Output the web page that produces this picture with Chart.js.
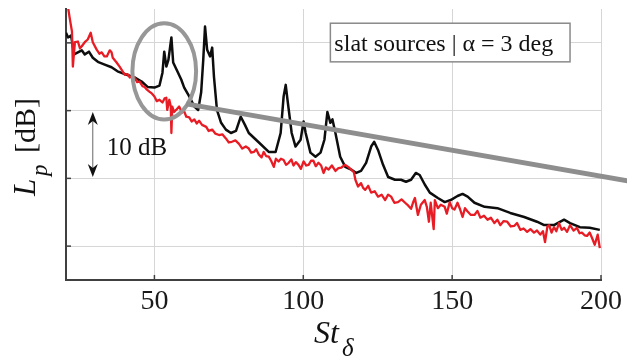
<!DOCTYPE html>
<html>
<head>
<meta charset="utf-8">
<script src="https://cdn.jsdelivr.net/npm/chart.js@4.4.1/dist/chart.umd.min.js"></script>
<style>
  body { margin: 0; background: #fff; }
  canvas { display: block; }
</style>
</head>
<body>
<canvas id="lineChart" width="627" height="361"></canvas>
<script>
// values (St_delta, Lp in dB relative to the lowest gridline - 5)
const stBlack = [20.3, 21.0, 22.0, 23.0, 24.3, 25.6, 26.6, 28.0, 29.3, 31.0, 33.3, 35.6, 37.6, 40.7, 43.3, 45.7, 47.7, 50.0, 51.7, 52.7,
    53.3, 54.0, 54.7, 55.7, 56.3, 57.7, 59.0, 60.0, 61.7, 63.4, 64.7, 65.7, 66.4, 67.0, 67.7, 68.7, 69.4, 70.0, 71.0, 72.4,
    74.0, 75.7, 77.4, 79.0, 80.4, 81.7, 85.1, 88.4, 90.7, 92.4, 93.4, 94.1, 94.7, 96.1, 97.4, 99.1, 100.1, 100.8, 102.4, 104.1,
    105.8, 107.1, 108.1, 109.1, 109.8, 110.8, 112.4, 114.1, 116.1, 117.8, 119.4, 121.1, 122.8, 123.8, 125.1, 126.8, 128.5, 130.8, 132.8, 134.5,
    136.2, 137.8, 139.1, 140.8, 142.5, 145.2, 147.5, 149.5, 151.8, 153.5, 155.2, 157.5, 160.9, 165.2, 169.5, 174.2, 178.5, 180.9, 184.2, 187.6,
    189.6, 192.9, 196.2, 199.6];
const lpBlack = [36.5, 35.8, 36.1, 33.3, 33.6, 33.9, 33.3, 33.7, 32.8, 32.2, 31.8, 31.4, 30.8, 30.3, 29.9, 29.3, 28.5, 28.4, 28.7, 30.6,
    33.7, 31.5, 32.5, 35.8, 32.1, 30.8, 29.6, 28.4, 27.1, 25.6, 25.1, 27.7, 32.5, 37.4, 34.0, 33.0, 34.3, 30.0, 25.1, 23.2,
    22.2, 21.7, 22.0, 24.1, 22.9, 21.7, 20.3, 18.9, 18.9, 21.7, 27.1, 28.8, 26.6, 21.7, 19.7, 20.7, 23.4, 21.7, 18.8, 18.2,
    18.8, 20.7, 24.8, 23.2, 23.7, 21.7, 18.2, 16.7, 16.3, 15.8, 16.1, 17.3, 19.7, 20.4, 19.2, 17.0, 15.2, 14.8, 14.8, 14.5,
    14.8, 15.8, 15.5, 14.1, 12.9, 12.1, 11.5, 11.8, 12.4, 12.7, 12.3, 11.4, 10.8, 10.6, 9.9, 9.3, 8.6, 8.1, 8.1, 8.9,
    8.4, 7.8, 7.7, 7.4];

const stRed = [20.3, 21.0, 21.6, 22.3, 22.6, 23.3, 24.3, 25.0, 25.6, 26.6, 27.6, 28.6, 29.3, 30.6, 31.5, 32.3, 33.2, 34.0, 35.0, 35.6,
    36.0, 37.3, 38.3, 39.0, 40.0, 41.0, 41.7, 42.5, 43.3, 44.2, 45.0, 46.0, 46.7, 47.5, 48.3, 49.2, 50.0, 50.8, 51.7, 52.7,
    53.4, 54.0, 54.3, 55.0, 55.5, 55.7, 56.0, 56.6, 57.3, 58.3, 59.3, 60.0, 60.7, 61.7, 62.5, 63.4, 64.2, 65.0, 66.0, 67.4,
    68.2, 69.4, 70.5, 71.7, 72.8, 74.0, 75.0, 76.0, 77.2, 78.4, 79.5, 80.7, 81.7, 82.5, 83.4, 84.2, 85.1, 86.0, 86.7, 87.5,
    88.4, 89.2, 90.1, 90.8, 91.7, 92.5, 93.4, 94.2, 95.1, 96.0, 96.7, 97.5, 98.4, 99.2, 100.1, 101.0, 101.8, 102.6, 103.4, 104.2,
    105.1, 106.0, 106.8, 107.6, 108.5, 109.6, 110.8, 111.8, 112.8, 114.0, 115.1, 116.1, 117.0, 117.5, 118.4, 119.4, 120.1, 120.8, 121.8, 122.8,
    124.0, 125.1, 126.3, 127.5, 128.5, 129.5, 130.6, 131.8, 133.0, 134.2, 135.2, 136.2, 137.0, 137.5, 138.5, 139.5, 140.8, 141.5, 142.2, 142.8,
    143.8, 144.2, 145.2, 146.2, 147.5, 148.2, 149.2, 150.0, 150.8, 151.8, 152.7, 153.5, 154.3, 155.2, 156.3, 157.5, 158.5, 159.5, 160.7, 161.9,
    163.0, 164.2, 165.2, 166.2, 167.3, 168.5, 169.7, 170.9, 171.8, 172.9, 174.0, 175.2, 176.3, 177.5, 178.5, 179.6, 180.5, 181.2, 182.0, 182.6,
    183.4, 184.2, 185.0, 185.9, 186.8, 187.6, 188.6, 189.6, 190.8, 191.9, 192.8, 193.6, 194.5, 195.3, 196.2, 197.0, 197.9, 198.9, 199.6];
const lpRed = [40.7, 40.2, 38.5, 36.7, 31.5, 35.1, 35.2, 34.2, 34.5, 35.1, 35.5, 36.5, 35.1, 34.0, 33.4, 33.6, 33.0, 33.0, 33.9, 33.6,
    32.8, 32.1, 31.5, 31.0, 30.3, 30.4, 29.9, 30.1, 29.9, 29.2, 29.3, 28.6, 28.5, 28.1, 27.8, 27.5, 27.1, 26.4, 26.6, 26.2,
    26.8, 26.9, 25.1, 26.6, 25.6, 21.7, 25.6, 24.8, 25.1, 25.6, 24.7, 24.9, 24.1, 24.0, 23.4, 23.7, 23.1, 23.5, 22.9, 22.6,
    22.0, 22.2, 21.6, 21.4, 21.5, 20.9, 20.3, 20.4, 20.6, 20.1, 19.4, 19.7, 19.4, 18.8, 18.9, 19.3, 18.5, 18.1, 18.9, 18.3,
    18.2, 17.6, 16.7, 17.9, 17.5, 17.9, 17.7, 17.0, 17.3, 17.8, 16.9, 17.4, 17.0, 16.4, 17.5, 16.9, 17.0, 17.6, 17.6, 16.8,
    17.3, 16.9, 15.8, 16.6, 16.3, 16.9, 16.1, 16.5, 16.6, 17.0, 16.7, 16.3, 15.9, 14.8, 13.8, 14.3, 13.6, 13.3, 13.9, 12.9,
    13.1, 12.3, 12.6, 11.8, 12.6, 12.3, 11.4, 11.5, 11.9, 11.4, 11.0, 10.5, 11.6, 12.1, 9.6, 11.1, 11.8, 10.8, 8.6, 11.4,
    7.5, 11.8, 10.6, 11.1, 10.8, 9.8, 11.5, 10.6, 10.4, 11.4, 10.4, 9.3, 10.6, 10.1, 9.6, 9.6, 10.2, 9.2, 9.5, 8.9,
    9.2, 8.4, 8.9, 8.1, 8.7, 8.6, 7.9, 8.0, 8.4, 7.4, 7.6, 7.1, 7.5, 7.0, 7.3, 6.7, 7.2, 5.6, 7.9, 8.1,
    7.0, 7.8, 7.2, 8.4, 7.4, 7.7, 7.1, 8.1, 7.3, 7.7, 6.9, 7.0, 6.6, 6.5, 7.0, 6.2, 5.2, 6.7, 4.7];

const xTicks = [50, 100, 150, 200];
const yGrid = [5, 15, 25, 35];
const boxText = 'slat sources | \u03b1 = 3 deg';

const SERIF = "'Liberation Serif', 'DejaVu Serif', serif";

function pts(xs, ys) {
    return xs.map((x, i) => ({ x: x, y: ys[i] }));
}

const annotations = {
    id: 'annotations',
    afterDatasetsDraw(chart) {
        const ctx = chart.ctx;
        const x = chart.scales.x, y = chart.scales.y;
        const area = chart.chartArea;
        ctx.save();

        // inward tick marks
        ctx.strokeStyle = '#404040';
        ctx.lineWidth = 1.5;
        xTicks.forEach(t => {
            const px = x.getPixelForValue(t);
            ctx.beginPath(); ctx.moveTo(px, area.bottom); ctx.lineTo(px, area.bottom - 5); ctx.stroke();
        });
        yGrid.forEach(t => {
            const py = y.getPixelForValue(t);
            ctx.beginPath(); ctx.moveTo(area.left, py); ctx.lineTo(area.left + 5, py); ctx.stroke();
        });

        // grey ellipse round the first peaks
        const cx = x.getPixelForValue(53.3), cy = y.getPixelForValue(30.8);
        const rx = x.getPixelForValue(64.0) - cx, ry = cy - y.getPixelForValue(37.9);
        ctx.strokeStyle = '#979797';
        ctx.lineWidth = 4;
        ctx.beginPath(); ctx.ellipse(cx, cy, rx, ry, 0, 0, Math.PI * 2); ctx.stroke();

        // grey trend line
        ctx.strokeStyle = '#8e8e8e';
        ctx.lineWidth = 5;
        ctx.beginPath();
        ctx.moveTo(x.getPixelForValue(60.7), y.getPixelForValue(26.0));
        ctx.lineTo(x.getPixelForValue(211.9), y.getPixelForValue(14.4));
        ctx.stroke();

        // 10 dB arrow
        const ax = x.getPixelForValue(29.3);
        const a1 = y.getPixelForValue(24.8), a2 = y.getPixelForValue(15.2);
        ctx.strokeStyle = '#666';
        ctx.lineWidth = 1;
        ctx.beginPath(); ctx.moveTo(ax, a1 + 8); ctx.lineTo(ax, a2 - 8); ctx.stroke();
        ctx.fillStyle = '#111';
        [[a1, 1], [a2, -1]].forEach(([tip, d]) => {
            ctx.beginPath();
            ctx.moveTo(ax, tip);
            ctx.lineTo(ax + 5, tip + 13 * d);
            ctx.lineTo(ax, tip + 9 * d);
            ctx.lineTo(ax - 5, tip + 13 * d);
            ctx.closePath();
            ctx.fill();
        });
        ctx.font = '25px ' + SERIF;
        ctx.textBaseline = 'alphabetic';
        ctx.fillText('10 dB', x.getPixelForValue(34.0), y.getPixelForValue(18.5));

        // label box
        const bl = x.getPixelForValue(109.1), br = x.getPixelForValue(189.6);
        const bt = y.getPixelForValue(37.9), bb = y.getPixelForValue(32.2);
        ctx.fillStyle = '#fff';
        ctx.fillRect(bl, bt, br - bl, bb - bt);
        ctx.strokeStyle = '#8a8a8a';
        ctx.lineWidth = 1.5;
        ctx.strokeRect(bl, bt, br - bl, bb - bt);
        ctx.fillStyle = '#111';
        ctx.font = '24px ' + SERIF;
        ctx.fillText(boxText, bl + 4, bt + 28);

        ctx.restore();
    },
    afterDraw(chart) {
        const ctx = chart.ctx;
        ctx.save();
        ctx.fillStyle = '#111';
        ctx.textBaseline = 'alphabetic';
        // x title: St with subscript delta
        ctx.font = 'italic 32px ' + SERIF;
        ctx.fillText('St', 314, 343);
        ctx.font = 'italic 25px ' + SERIF;
        ctx.fillText('\u03b4', 342, 356);
        // y title: L with subscript p, [dB]
        ctx.translate(35, 196);
        ctx.rotate(-Math.PI / 2);
        ctx.font = 'italic 31px ' + SERIF;
        ctx.fillText('L', 0, 0);
        ctx.font = 'italic 23px ' + SERIF;
        ctx.fillText('p', 20, 12);
        ctx.font = '30px ' + SERIF;
        ctx.fillText('[dB]', 43, 0);
        ctx.restore();
    }
};

CHART = document.getElementById('lineChart');
let line_Chart = new Chart(CHART, {
    type: 'line',
    data: {
        datasets: [{
            label: 'slat sources (red)',
            data: pts(stRed, lpRed),
            borderColor: '#e81c24',
            borderWidth: 2.3,
            borderJoinStyle: 'round',
            pointRadius: 0,
            tension: 0
        }, {
            label: 'slat sources (black)',
            data: pts(stBlack, lpBlack),
            borderColor: '#0d0d0d',
            borderWidth: 2.5,
            borderJoinStyle: 'round',
            pointRadius: 0,
            tension: 0
        }]
    },
    options: {
        responsive: false,
        animation: false,
        layout: { padding: { left: 66, top: 9, right: 23, bottom: 44 } },
        plugins: { legend: { display: false }, tooltip: { enabled: false } },
        scales: {
            x: {
                type: 'linear',
                min: 20.3,
                max: 200,
                afterBuildTicks: axis => { axis.ticks = xTicks.map(v => ({ value: v })); },
                afterFit: axis => { axis.height = 37; },
                ticks: { color: '#1a1a1a', padding: 5, font: { family: SERIF, size: 28 } },
                grid: { color: '#d6d6d6', lineWidth: 1, drawTicks: false },
                border: { display: true, color: '#404040', width: 2 }
            },
            y: {
                min: 0,
                max: 40,
                afterBuildTicks: axis => { axis.ticks = yGrid.map(v => ({ value: v })); },
                afterFit: axis => { axis.width = 0; },
                ticks: { display: false },
                grid: { color: '#d6d6d6', lineWidth: 1, drawTicks: false },
                border: { display: true, color: '#404040', width: 2 }
            }
        }
    },
    plugins: [annotations]
});
</script>
</body>
</html>
